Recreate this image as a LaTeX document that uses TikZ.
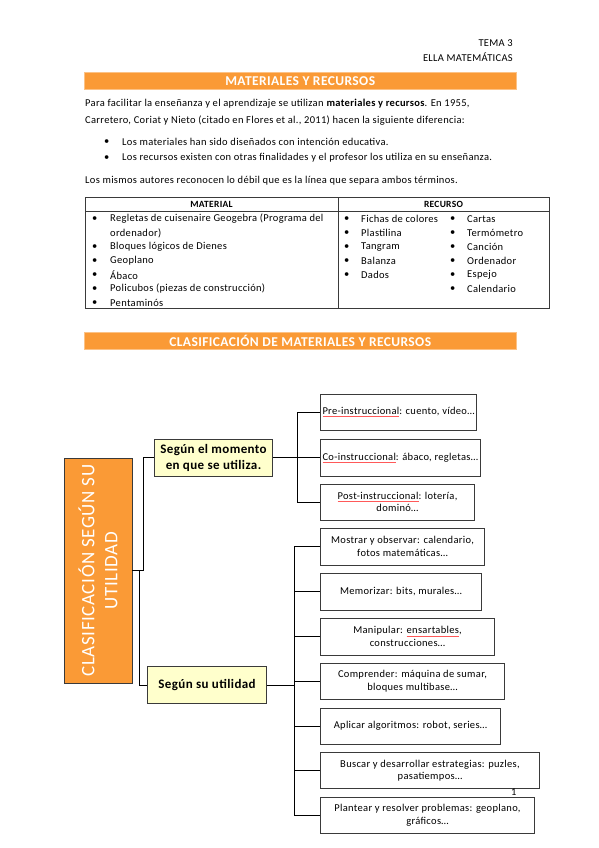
\documentclass[tikz,border=0pt]{standalone}
\usepackage{fontspec}
\setmainfont{Carlito}[LetterSpace=3]
\usepackage{tikz}
\usetikzlibrary{positioning, calc}
\usepackage{xcolor}
\definecolor{bar-orange}{HTML}{FA9A36}
\definecolor{note-yellow}{HTML}{FFFFCC}
\definecolor{box-gray}{HTML}{3A3A3A}
\newsavebox{\spellbox}
\newcommand{\spellmark}[1]{\sbox{\spellbox}{#1}\rlap{\textcolor{red!65}{\rule[-0.45ex]{\wd\spellbox}{0.4pt}}}\usebox{\spellbox}}

\begin{document}
\begin{tikzpicture}[x=1pt, y=-1pt, font=\fontsize{10.5}{12.5}\selectfont,
	bar/.style={fill=bar-orange, draw=bar-orange!60, anchor=north west, minimum width=432pt, minimum height=17pt, inner sep=0pt, text=white, font=\fontsize{13.5}{15}\selectfont\bfseries},
	item/.style={anchor=west, inner sep=0pt},
	leaf/.style={draw=box-gray, line width=1pt, fill=white, align=center, anchor=west, minimum height=36pt, inner sep=2pt},
	branch/.style={draw=box-gray, line width=1pt, fill=note-yellow, align=center, anchor=west, minimum height=37pt, inner sep=2pt, font=\fontsize{13}{16}\selectfont\bfseries},
	link/.style={draw=black, line width=1pt}]
	\useasboundingbox[fill=white] (0,0) rectangle (599,848);
	
	% header
	\node[item, anchor=east] at (513,43) (tema) {TEMA 3};
	\node[item, anchor=east] at (513,57) (ella) {ELLA MATEMÁTICAS};
	
	\node[bar] at (84,72) (title1) {MATERIALES Y RECURSOS};
	
	\node[item] at (85,104) (par1) {Para facilitar la enseñanza y el aprendizaje se utilizan \textbf{materiales y recursos}. En 1955,};
	\node[item] at (85,121) (par2) {Carretero, Coriat y Nieto (citado en Flores et al., 2011) hacen la siguiente diferencia:};
	\node[item] at (104,142) (dot1) {\textbullet};
	\node[item] at (122,142) (bul1) {Los materiales han sido diseñados con intención educativa.};
	\node[item] at (104,158) (dot2) {\textbullet};
	\node[item] at (122,158) (bul2) {Los recursos existen con otras finalidades y el profesor los utiliza en su enseñanza.};
	\node[item] at (85,181) (par3) {Los mismos autores reconocen lo débil que es la línea que separa ambos términos.};
	
	% table
	\draw[box-gray, line width=0.8pt] (85,197) rectangle (549,308);
	\draw[box-gray, line width=0.6pt] (85,211) -- (549,211);
	\draw[box-gray, line width=0.8pt] (338,197) -- (338,308);
	\node[font=\fontsize{9.5}{11}\selectfont\bfseries] at (211.5,204) (hmat) {MATERIAL};
	\node[font=\fontsize{9.5}{11}\selectfont\bfseries] at (443.5,204) (hrec) {RECURSO};
	
	\node[item] at (92,219) (m1d) {\textbullet};
	\node[item] at (110,219) (m1) {Regletas de cuisenaire Geogebra (Programa del};
	\node[item] at (110,233) (m1b) {ordenador)};
	\node[item] at (92,247) (m2d) {\textbullet};
	\node[item] at (110,247) (m2) {Bloques lógicos de Dienes};
	\node[item] at (92,261) (m3d) {\textbullet};
	\node[item] at (110,261) (m3) {Geoplano};
	\node[item] at (92,275) (m4d) {\textbullet};
	\node[item] at (110,275) (m4) {Ábaco};
	\node[item] at (92,289) (m5d) {\textbullet};
	\node[item] at (110,289) (m5) {Policubos (piezas de construcción)};
	\node[item] at (92,303) (m6d) {\textbullet};
	\node[item] at (110,303) (m6) {Pentaminós};
	
	\node[item] at (344,219) (r1d) {\textbullet};
	\node[item] at (361,219) (r1) {Fichas de colores};
	\node[item] at (344,233) (r2d) {\textbullet};
	\node[item] at (361,233) (r2) {Plastilina};
	\node[item] at (344,247) (r3d) {\textbullet};
	\node[item] at (361,247) (r3) {Tangram};
	\node[item] at (344,261) (r4d) {\textbullet};
	\node[item] at (361,261) (r4) {Balanza};
	\node[item] at (344,275) (r5d) {\textbullet};
	\node[item] at (361,275) (r5) {Dados};
	
	\node[item] at (450,219) (s1d) {\textbullet};
	\node[item] at (467,219) (s1) {Cartas};
	\node[item] at (450,233) (s2d) {\textbullet};
	\node[item] at (467,233) (s2) {Termómetro};
	\node[item] at (450,247) (s3d) {\textbullet};
	\node[item] at (467,247) (s3) {Canción};
	\node[item] at (450,261) (s4d) {\textbullet};
	\node[item] at (467,261) (s4) {Ordenador};
	\node[item] at (450,275) (s5d) {\textbullet};
	\node[item] at (467,275) (s5) {Espejo};
	\node[item] at (450,289) (s6d) {\textbullet};
	\node[item] at (467,289) (s6) {Calendario};
	
	\node[bar] at (84,332) (title2) {CLASIFICACIÓN DE MATERIALES Y RECURSOS};
	
	% classification tree
	\node[draw=box-gray, line width=0.8pt, fill=bar-orange, minimum width=68pt, minimum height=225pt] at (98,570.5) (clasif) {};
	\node[rotate=90, text=white, align=center, font=\fontsize{19}{23}\selectfont] at (clasif.center) (clasiftext) {CLASIFICACIÓN SEGÚN SU\\UTILIDAD};
	
	\node[branch, minimum width=118pt] at (154,457.5) (momento) {Según el momento\\en que se utiliza.};
	\node[branch, minimum width=119pt] at (147,685) (utilidad) {Según su utilidad};
	
	\node[leaf, minimum width=153pt] at (320,412) (pre) {\spellmark{Pre-instruccional}: cuento, vídeo…};
	\node[leaf, minimum width=159pt, minimum height=37pt] at (320,457.5) (co) {\spellmark{Co-instruccional}: ábaco, regletas…};
	\node[leaf, minimum width=154pt] at (320,502) (post) {\spellmark{Post-instruccional}: lotería,\\dominó…};
	
	\node[leaf, minimum width=164pt, minimum height=37pt] at (320,546.5) (mostrar) {Mostrar y observar: calendario,\\fotos matemáticas…};
	\node[leaf, minimum width=161pt, minimum height=37pt] at (320,591.5) (memorizar) {Memorizar: bits, murales…};
	\node[leaf, minimum width=174pt, minimum height=37pt] at (320,636.5) (manipular) {Manipular: \spellmark{ensartables},\\construcciones…};
	\node[leaf, minimum width=184pt] at (320,681) (comprender) {Comprender: máquina de sumar,\\bloques multibase…};
	\node[leaf, minimum width=180pt] at (320,726) (aplicar) {Aplicar algoritmos: robot, series…};
	\node[leaf, minimum width=219pt] at (320,770.5) (buscar) {Buscar y desarrollar estrategias: puzles,\\pasatiempos…};
	\node[leaf, minimum width=214pt] at (320,815) (plantear) {Plantear y resolver problemas: geoplano,\\gráficos…};
	
	\draw[link] (clasif.east) -- ++(11,0) |- (momento.west);
	\draw[link] (clasif.east) -- ++(7,0) |- (utilidad.west);
	
	\draw[link] (momento.east) -- ++(24,0) |- (pre.west);
	\draw[link] (momento.east) -- (co.west);
	\draw[link] (momento.east) -- ++(24,0) |- (post.west);
	
	\draw[link] (utilidad.east) -- ++(27,0) |- (mostrar.west);
	\draw[link] (utilidad.east) -- ++(27,0) |- (memorizar.west);
	\draw[link] (utilidad.east) -- ++(27,0) |- (manipular.west);
	\draw[link] (utilidad.east) -- ++(27,0) |- (comprender.west);
	\draw[link] (utilidad.east) -- ++(27,0) |- (aplicar.west);
	\draw[link] (utilidad.east) -- ++(27,0) |- (buscar.west);
	\draw[link] (utilidad.east) -- ++(27,0) |- (plantear.west);
	
	\node[item] at (511,792) (pagenum) {1};
\end{tikzpicture}
\end{document}
